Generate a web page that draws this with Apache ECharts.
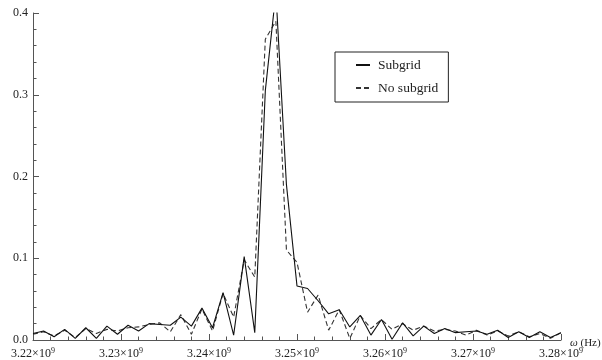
<!DOCTYPE html>
<html>
<head>
<meta charset="utf-8">
<script src="https://cdn.jsdelivr.net/npm/echarts@6/dist/echarts.min.js"></script>
<style>
  html, body { margin: 0; padding: 0; background: #fff; }
  #chart { width: 602px; height: 360px; }
</style>
</head>
<body>
<div id="chart"></div>
<script>
// frequencies in GHz (sample grid)
const freqGHz = [
  3.2200, 3.2212, 3.2224, 3.2236, 3.2248, 3.2260, 3.2272, 3.2284, 3.2296, 3.2308,
  3.2320, 3.2332, 3.2344, 3.2356, 3.2368, 3.2380, 3.2392, 3.2404, 3.2416, 3.2428,
  3.2440, 3.2452, 3.2464, 3.2476, 3.2488, 3.2500, 3.2512, 3.2524, 3.2536, 3.2548,
  3.2560, 3.2572, 3.2584, 3.2596, 3.2608, 3.2620, 3.2632, 3.2644, 3.2656, 3.2668,
  3.2680, 3.2692, 3.2704, 3.2716, 3.2728, 3.2740, 3.2752, 3.2764, 3.2776, 3.2788,
  3.2800
];

const subgrid = [
  0.008, 0.011, 0.004, 0.013, 0.002, 0.015, 0.002, 0.017, 0.007, 0.018,
  0.011, 0.020, 0.019, 0.018, 0.028, 0.017, 0.039, 0.015, 0.058, 0.006,
  0.102, 0.009, 0.305, 0.425, 0.190, 0.066, 0.063, 0.048, 0.032, 0.037,
  0.016, 0.030, 0.006, 0.025, 0.001, 0.021, 0.005, 0.017, 0.008, 0.014,
  0.009, 0.010, 0.011, 0.007, 0.012, 0.003, 0.010, 0.003, 0.010, 0.003,
  0.009
];

const noSubgrid = [
  0.007, 0.010, 0.005, 0.012, 0.003, 0.014, 0.008, 0.013, 0.011, 0.015,
  0.016, 0.019, 0.021, 0.010, 0.031, 0.007, 0.038, 0.011, 0.057, 0.028,
  0.098, 0.077, 0.368, 0.390, 0.110, 0.095, 0.034, 0.055, 0.012, 0.037,
  0.002, 0.030, 0.014, 0.025, 0.013, 0.020, 0.012, 0.017, 0.011, 0.013,
  0.011, 0.006, 0.012, 0.006, 0.011, 0.005, 0.010, 0.004, 0.008, 0.002,
  0.009
];

const seriesNames = ['Subgrid', 'No subgrid'];

const serif = 'Liberation Serif, Times New Roman, serif';
const axisColor = '#555';
const textColor = '#222';

const toPairs = (ys) => freqGHz.map((f, i) => [f * 1e9, ys[i]]);

const chart = echarts.init(document.getElementById('chart'));

const option = {
  backgroundColor: '#ffffff',
  animation: false,
  grid: {
    left: 33,
    right: 41,
    top: 13,
    bottom: 20,
    outerBoundsMode: 'none'
  },
  legend: {
    data: seriesNames,
    orient: 'vertical',
    left: 335,
    top: 52,
    itemWidth: 14,
    itemHeight: 14,
    itemGap: 9,
    padding: [6, 10, 7, 20],
    borderColor: '#222',
    borderWidth: 1,
    itemStyle: { color: 'transparent', borderColor: 'transparent', borderWidth: 0, opacity: 0 },
    textStyle: {
      fontFamily: serif,
      fontSize: 13.5,
      color: textColor,
      padding: [0, 0, 0, 3]
    }
  },
  xAxis: {
    type: 'value',
    min: 3220000000,
    max: 3280000000,
    interval: 10000000,
    name: '{i|ω} (Hz)',
    nameLocation: 'end',
    nameGap: 9,
    nameMoveOverlap: false,
    nameTextStyle: {
      fontFamily: serif,
      fontSize: 11,
      color: textColor,
      padding: [7, 0, 0, 0],
      rich: {
        i: { fontFamily: serif, fontSize: 11, fontStyle: 'italic', color: textColor }
      }
    },
    axisLine: { lineStyle: { color: axisColor, width: 1 } },
    axisTick: { inside: true, length: 6, lineStyle: { color: axisColor } },
    minorTick: { show: true, splitNumber: 5, length: 3.5, lineStyle: { color: axisColor } },
    splitLine: { show: false },
    axisLabel: {
      margin: 7,
      color: textColor,
      fontFamily: serif,
      fontSize: 12,
      formatter: (v) => (v / 1e9).toFixed(2) + '×10{sup|9}',
      rich: {
        sup: { fontFamily: serif, fontSize: 8, color: textColor, verticalAlign: 'top', padding: [0, 0, 6, 0] }
      }
    }
  },
  yAxis: {
    type: 'value',
    min: 0,
    max: 0.4,
    interval: 0.1,
    axisLine: { show: true, lineStyle: { color: axisColor, width: 1 } },
    axisTick: { show: true, inside: true, length: 6, lineStyle: { color: axisColor } },
    minorTick: { show: true, splitNumber: 5, length: 3.5, lineStyle: { color: axisColor } },
    splitLine: { show: false },
    axisLabel: {
      margin: 5,
      color: textColor,
      fontFamily: serif,
      fontSize: 12,
      formatter: (v) => v.toFixed(1)
    }
  },
  series: [
    {
      name: seriesNames[0],
      type: 'line',
      data: toPairs(subgrid),
      symbol: 'none',
      lineStyle: { color: '#111', width: 1.1 },
      itemStyle: { color: '#111' },
      z: 3
    },
    {
      name: seriesNames[1],
      type: 'line',
      data: toPairs(noSubgrid),
      symbol: 'none',
      lineStyle: { color: '#333', width: 1.1, type: [5, 3] },
      itemStyle: { color: '#333' },
      z: 2
    }
  ]
};

chart.setOption(option);
</script>
</body>
</html>
